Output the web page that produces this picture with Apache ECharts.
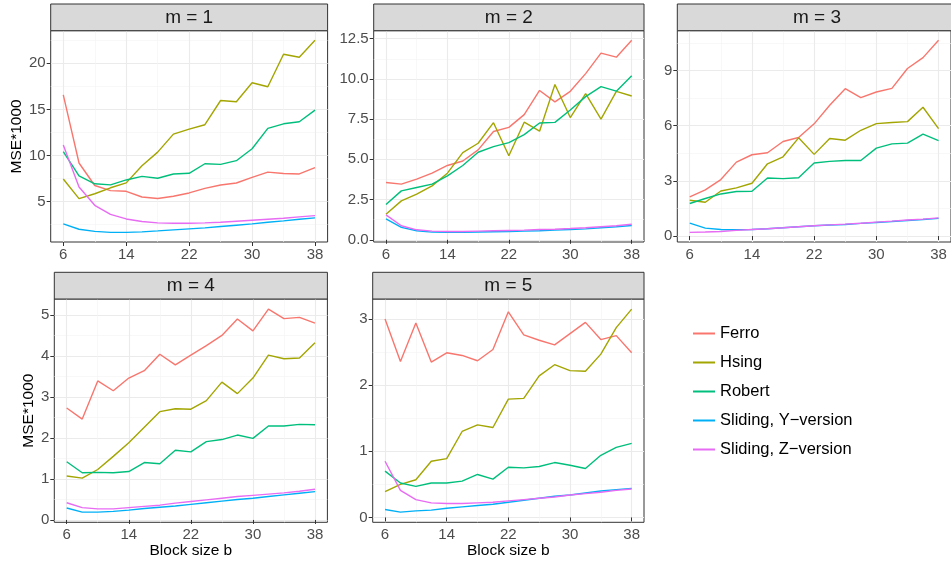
<!DOCTYPE html>
<html>
<head>
<meta charset="utf-8">
<script src="https://cdn.jsdelivr.net/npm/echarts@6/dist/echarts.min.js"></script>
<style>
html,body{margin:0;padding:0;background:#fff;}
#chart{width:951px;height:563px;}
</style>
</head>
<body>
<div id="chart"></div>
<script>
// ---- data ----
const blockSizes = [6, 8, 10, 12, 14, 16, 18, 20, 22, 24, 26, 28, 30, 32, 34, 36, 38];
const methods = ['Ferro', 'Hsing', 'Robert', 'Sliding, Y\u2212version', 'Sliding, Z\u2212version'];
const panelTitles = ['m = 1', 'm = 2', 'm = 3', 'm = 4', 'm = 5'];

const ferro1  = [16.58, 9.19, 6.75, 6.19, 6.12, 5.5, 5.33, 5.58, 5.94, 6.44, 6.8, 7.02, 7.63, 8.2, 8.05, 8.0, 8.68];
const hsing1  = [7.45, 5.32, 5.85, 6.5, 7.03, 8.9, 10.37, 12.32, 12.87, 13.34, 15.97, 15.83, 17.89, 17.46, 20.99, 20.66, 22.5];
const robert1 = [10.42, 7.8, 6.93, 6.82, 7.35, 7.74, 7.53, 8.0, 8.07, 9.11, 9.04, 9.44, 10.74, 12.94, 13.44, 13.66, 14.92];
const slidY1  = [2.58, 2.0, 1.77, 1.66, 1.66, 1.72, 1.82, 1.93, 2.04, 2.15, 2.3, 2.44, 2.58, 2.76, 2.91, 3.09, 3.23];
const slidZ1  = [11.15, 6.59, 4.6, 3.61, 3.12, 2.84, 2.69, 2.66, 2.66, 2.69, 2.76, 2.87, 2.98, 3.09, 3.2, 3.34, 3.48];

const ferro2  = [3.56, 3.46, 3.77, 4.14, 4.62, 4.9, 5.59, 6.73, 6.99, 7.78, 9.28, 8.57, 9.23, 10.33, 11.6, 11.35, 12.4];
const hsing2  = [1.59, 2.42, 2.84, 3.35, 4.14, 5.42, 6.0, 7.28, 5.22, 7.31, 6.75, 9.65, 7.6, 9.08, 7.5, 9.23, 8.94];
const robert2 = [2.19, 3.04, 3.25, 3.46, 3.97, 4.62, 5.44, 5.79, 6.04, 6.54, 7.26, 7.3, 8.07, 8.9, 9.52, 9.24, 10.19];
const slidY2  = [1.3, 0.77, 0.56, 0.48, 0.46, 0.46, 0.48, 0.5, 0.52, 0.54, 0.56, 0.6, 0.64, 0.68, 0.75, 0.81, 0.89];
const slidZ2  = [1.55, 0.87, 0.62, 0.54, 0.52, 0.52, 0.54, 0.56, 0.58, 0.6, 0.64, 0.66, 0.7, 0.75, 0.81, 0.87, 0.97];

const ferro3  = [2.13, 2.51, 3.07, 4.02, 4.42, 4.53, 5.14, 5.36, 6.1, 7.11, 8.01, 7.52, 7.83, 8.03, 9.11, 9.7, 10.64];
const hsing3  = [1.95, 1.84, 2.45, 2.62, 2.87, 3.93, 4.31, 5.34, 4.44, 5.3, 5.21, 5.75, 6.11, 6.17, 6.22, 7.0, 5.84];
const robert3 = [1.77, 2.04, 2.29, 2.42, 2.44, 3.16, 3.12, 3.17, 3.97, 4.06, 4.11, 4.11, 4.78, 5.01, 5.05, 5.54, 5.19];
const slidY3  = [0.7, 0.43, 0.36, 0.34, 0.36, 0.4, 0.45, 0.51, 0.56, 0.6, 0.63, 0.69, 0.74, 0.79, 0.85, 0.9, 0.96];
const slidZ3  = [0.2, 0.22, 0.25, 0.31, 0.36, 0.4, 0.45, 0.51, 0.56, 0.61, 0.65, 0.7, 0.76, 0.81, 0.87, 0.92, 0.99];

const ferro4  = [2.73, 2.46, 3.39, 3.15, 3.46, 3.64, 4.04, 3.78, 4.02, 4.25, 4.5, 4.9, 4.61, 5.14, 4.91, 4.94, 4.8];
const hsing4  = [1.07, 1.02, 1.23, 1.55, 1.88, 2.26, 2.64, 2.71, 2.7, 2.91, 3.36, 3.08, 3.46, 4.02, 3.93, 3.95, 4.32];
const robert4 = [1.42, 1.15, 1.16, 1.15, 1.18, 1.4, 1.37, 1.7, 1.66, 1.91, 1.96, 2.07, 1.99, 2.29, 2.29, 2.33, 2.32];
const slidY4  = [0.29, 0.19, 0.19, 0.21, 0.24, 0.28, 0.31, 0.34, 0.38, 0.42, 0.46, 0.5, 0.53, 0.57, 0.61, 0.65, 0.69];
const slidZ4  = [0.42, 0.3, 0.27, 0.27, 0.3, 0.33, 0.36, 0.41, 0.45, 0.49, 0.53, 0.57, 0.6, 0.63, 0.66, 0.7, 0.75];

const ferro5  = [3.0, 2.36, 2.94, 2.35, 2.49, 2.45, 2.37, 2.54, 3.11, 2.76, 2.68, 2.61, 2.78, 2.95, 2.69, 2.75, 2.49];
const hsing5  = [0.39, 0.5, 0.57, 0.85, 0.89, 1.3, 1.4, 1.36, 1.79, 1.8, 2.14, 2.31, 2.22, 2.21, 2.47, 2.87, 3.15];
const robert5 = [0.7, 0.52, 0.47, 0.52, 0.52, 0.55, 0.65, 0.58, 0.76, 0.75, 0.77, 0.83, 0.79, 0.74, 0.94, 1.06, 1.12];
const slidY5  = [0.12, 0.08, 0.1, 0.11, 0.14, 0.16, 0.18, 0.2, 0.23, 0.26, 0.29, 0.32, 0.34, 0.37, 0.4, 0.42, 0.44];
const slidZ5  = [0.85, 0.41, 0.27, 0.22, 0.21, 0.21, 0.22, 0.23, 0.25, 0.27, 0.29, 0.31, 0.34, 0.36, 0.38, 0.41, 0.43];

const xTicks = [6, 14, 22, 30, 38];
const xMinorTicks = [10, 18, 26, 34];
const yTicks1 = [5, 10, 15, 20];
const yTicks2 = [0, 2.5, 5, 7.5, 10, 12.5];
const yTicks3 = [0, 3, 6, 9];
const yTicks4 = [0, 1, 2, 3, 4, 5];
const yTicks5 = [0, 1, 2, 3];
const yMinor1 = [2.5, 7.5, 12.5, 17.5, 22.5];
const yMinor2 = [1.25, 3.75, 6.25, 8.75, 11.25];
const yMinor3 = [1.5, 4.5, 7.5, 10.5];
const yMinor4 = [0.5, 1.5, 2.5, 3.5, 4.5];
const yMinor5 = [0.5, 1.5, 2.5];
const yDecimals = [0, 1, 0, 0, 0];

// ---- build ----
const panelData = [
  [ferro1, hsing1, robert1, slidY1, slidZ1],
  [ferro2, hsing2, robert2, slidY2, slidZ2],
  [ferro3, hsing3, robert3, slidY3, slidZ3],
  [ferro4, hsing4, robert4, slidY4, slidZ4],
  [ferro5, hsing5, robert5, slidY5, slidZ5]
];
const yTicks = [yTicks1, yTicks2, yTicks3, yTicks4, yTicks5];
const yMinor = [yMinor1, yMinor2, yMinor3, yMinor4, yMinor5];

const colors = ['#F8766D', '#A3A500', '#00BF7D', '#00B0F6', '#E76BF3'];
const FONT = '"Liberation Sans", Arial, Helvetica, sans-serif';

const layout = [
  {left: 50.7,  top: 30.7, width: 276.9, height: 211.3},
  {left: 373.7, top: 30.7, width: 270.3, height: 211.3},
  {left: 677.3, top: 30.7, width: 279.4, height: 211.3},
  {left: 54.3,  top: 299,  width: 273.1, height: 223.3},
  {left: 372.7, top: 299,  width: 271.3, height: 223.3}
];
const stripH = 26.7;

function expand(lo, hi) { const p = (hi - lo) * 0.05; return [lo - p, hi + p]; }
const xr = expand(Math.min(...blockSizes), Math.max(...blockSizes));

const grids = [], xAxes = [], yAxes = [], series = [], graphics = [];

layout.forEach((g, p) => {
  grids.push({left: g.left, top: g.top, width: g.width, height: g.height,
    show: true, borderColor: '#333333', borderWidth: 1, backgroundColor: 'transparent', containLabel: false});

  const all = [].concat(...panelData[p]);
  const yr = expand(Math.min(...all), Math.max(...all));

  xAxes.push({
    gridIndex: p, type: 'value', min: xr[0], max: xr[1], position: 'bottom',
    axisLine: {show: false},
    axisTick: {show: true, customValues: xTicks, length: 4, lineStyle: {color: '#333333', width: 1}},
    axisLabel: {customValues: xTicks, fontSize: 15, color: '#4D4D4D', margin: 5, fontFamily: FONT},
    splitLine: {show: true, lineStyle: {color: '#EBEBEB', width: 1.1}},
    name: p >= 3 ? 'Block size b' : '', nameLocation: 'middle', nameGap: 19,
    nameTextStyle: {fontSize: 15.5, color: '#000', fontFamily: FONT}
  });
  xAxes.push({
    gridIndex: p, type: 'value', min: xr[0], max: xr[1], position: 'top',
    axisLine: {show: false},
    axisTick: {show: false, customValues: xMinorTicks},
    axisLabel: {show: false, customValues: xMinorTicks},
    splitLine: {show: true, lineStyle: {color: '#F3F3F3', width: 0.6}}
  });
  const dec = yDecimals[p];
  yAxes.push({
    gridIndex: p, type: 'value', min: yr[0], max: yr[1], position: 'left',
    axisLine: {show: false},
    axisTick: {show: true, customValues: yTicks[p], length: 4, lineStyle: {color: '#333333', width: 1}},
    axisLabel: {customValues: yTicks[p], fontSize: 15, color: '#4D4D4D', margin: 5, fontFamily: FONT,
      formatter: v => Number(v).toFixed(dec)},
    splitLine: {show: true, lineStyle: {color: '#EBEBEB', width: 1.1}},
    name: (p === 0 || p === 3) ? 'MSE*1000' : '', nameLocation: 'middle', nameGap: p === 0 ? 20 : 13,
    nameTextStyle: {fontSize: 15.5, color: '#000', fontFamily: FONT}
  });
  yAxes.push({
    gridIndex: p, type: 'value', min: yr[0], max: yr[1], position: 'right',
    axisLine: {show: false},
    axisTick: {show: false, customValues: yMinor[p]},
    axisLabel: {show: false, customValues: yMinor[p]},
    splitLine: {show: true, lineStyle: {color: '#F3F3F3', width: 0.6}}
  });

  panelData[p].forEach((vals, k) => {
    series.push({
      type: 'line', name: methods[k],
      xAxisIndex: 2 * p, yAxisIndex: 2 * p,
      data: blockSizes.map((b, i) => [b, vals[i]]),
      symbol: 'none', showSymbol: false,
      lineStyle: {color: colors[k], width: 1.4},
      itemStyle: {color: colors[k]},
      emphasis: {disabled: true},
      animation: false
    });
  });

  graphics.push({
    type: 'rect', silent: true, z: 10,
    shape: {x: g.left, y: g.top - stripH, width: g.width, height: stripH},
    style: {fill: '#D9D9D9', stroke: '#333333', lineWidth: 1}
  });
  graphics.push({
    type: 'text', silent: true, z: 11,
    x: g.left + g.width / 2, y: g.top - stripH / 2,
    style: {text: panelTitles[p], fontSize: 19, fontFamily: FONT, fill: '#1A1A1A',
      align: 'center', verticalAlign: 'middle', textAlign: 'center', textVerticalAlign: 'middle'}
  });
});

const chart = echarts.init(document.getElementById('chart'), null, {renderer: 'canvas'});
chart.setOption({
  backgroundColor: '#ffffff',
  animation: false,
  textStyle: {fontFamily: FONT},
  grid: grids,
  xAxis: xAxes,
  yAxis: yAxes,
  series: series,
  legend: {
    data: methods, orient: 'vertical', left: 688, top: 320,
    icon: 'rect', itemWidth: 22, itemHeight: 2, itemGap: 12,
    textStyle: {fontSize: 16.5, lineHeight: 17, color: '#000', fontFamily: FONT},
    selectedMode: false
  },
  graphic: graphics
});
</script>
</body>
</html>
